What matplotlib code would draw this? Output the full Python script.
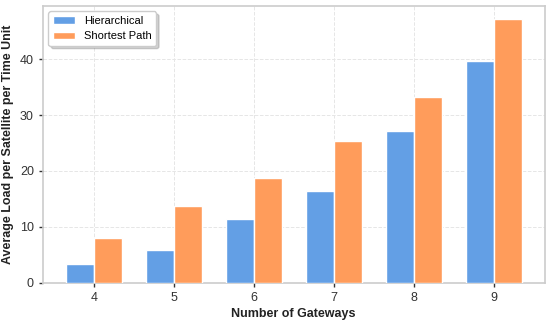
import matplotlib
matplotlib.use("Agg")
import matplotlib.pyplot as plt
import numpy as np

gateways = [4, 5, 6, 7, 8, 9]
hierarchical = [3.24, 5.88, 11.33, 16.4, 27.2, 39.7]
shortest_path = [7.98, 13.74, 18.83, 25.3, 33.27, 47.25]

plt.rcParams['font.family'] = ['Liberation Sans', 'DejaVu Sans']

fig, ax = plt.subplots(figsize=(5.5, 3.24), dpi=100)
x = np.array(gateways, dtype=float)
w = 0.35
ax.bar(x - w/2, hierarchical, w, color='#639fe5', edgecolor='white', linewidth=1, label='Hierarchical', zorder=3)
ax.bar(x + w/2, shortest_path, w, color='#ff9c5b', edgecolor='white', linewidth=1, label='Shortest Path', zorder=3)

ax.set_xticks(gateways)
ax.set_xlabel('Number of Gateways', fontsize=9, fontweight='bold', color='#222222', labelpad=3)
ax.set_ylabel('Average Load per Satellite per Time Unit', fontsize=9, fontweight='bold', color='#222222', labelpad=4)
ax.grid(True, linestyle='--', color='#e6e6e6', linewidth=0.7, zorder=0)
ax.set_axisbelow(True)
for s in ax.spines.values():
    s.set_color('#cccccc')
    s.set_linewidth(1.2)
ax.tick_params(axis='both', labelsize=9, colors='#333333', length=3, width=1)
leg = ax.legend(loc='upper left', fontsize=8, frameon=True,
                shadow={'color': 'gray', 'alpha': 0.35}, fancybox=True, edgecolor='#cccccc')

fig.subplots_adjust(left=0.078, right=0.99, top=0.982, bottom=0.128)
fig.savefig('out.png', dpi=100)
